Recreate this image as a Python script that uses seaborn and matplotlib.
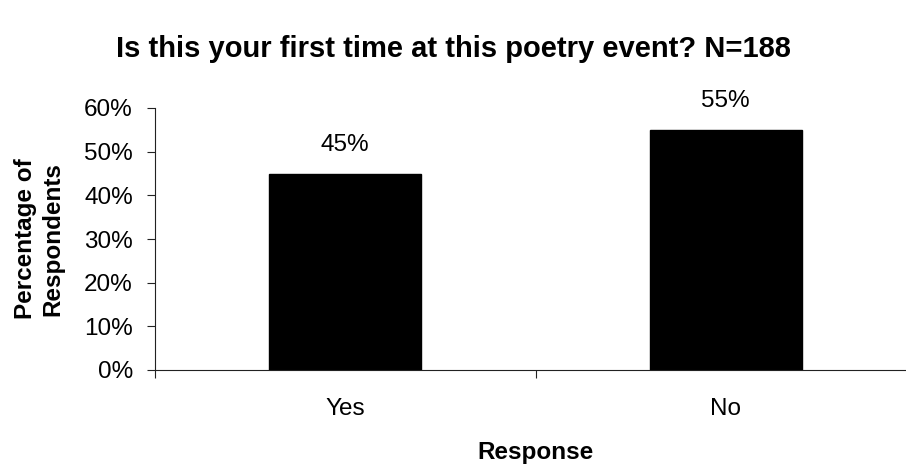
import matplotlib
matplotlib.use("Agg")
import matplotlib.pyplot as plt
import seaborn as sns
import pandas as pd
from matplotlib.ticker import FixedLocator, PercentFormatter

responses = ["Yes", "No"]
percentages = [45, 55]
y_ticks = [0, 10, 20, 30, 40, 50, 60]

sns.set_style("white")
plt.rcParams["font.family"] = ["Liberation Sans", "DejaVu Sans"]
plt.rcParams["text.color"] = "black"
plt.rcParams["axes.labelcolor"] = "black"
plt.rcParams["xtick.color"] = "black"
plt.rcParams["ytick.color"] = "black"

df = pd.DataFrame({"Response": responses, "Percent": percentages})

fig = plt.figure(figsize=(9.06, 4.66), dpi=100)
ax = fig.add_axes([155 / 906, 96 / 466, (916 - 155) / 906, (370 - 108) / 466])

sns.barplot(data=df, x="Response", y="Percent", color="black", width=0.4,
            saturation=1, ax=ax, edgecolor="black")

ax.set_xlim(-0.5, 1.5)
ax.set_ylim(0, 60)

for spine in ["top", "right"]:
    ax.spines[spine].set_visible(False)
for spine in ["left", "bottom"]:
    ax.spines[spine].set_color("#222222")
    ax.spines[spine].set_linewidth(0.8)

ax.yaxis.set_major_locator(FixedLocator(y_ticks))
ax.yaxis.set_major_formatter(PercentFormatter(decimals=0))
ax.tick_params(axis="y", direction="out", length=6, width=0.8, color="#222222",
               labelsize=17.5, pad=10, left=True)

# category labels sit between minor divider ticks
ax.tick_params(axis="x", which="major", length=0, labelsize=17.5, pad=20)
ax.xaxis.set_minor_locator(FixedLocator([-0.5, 0.5, 1.5]))
ax.tick_params(axis="x", which="minor", direction="out", length=6, width=0.8,
               color="#222222", bottom=True)

for container in ax.containers:
    ax.bar_label(container, labels=[f"{v:.0f}%" for v in percentages],
                 padding=12.5, fontsize=17.5)

ax.set_xlabel("Response", fontsize=17.5, fontweight="bold", labelpad=15)
ax.set_ylabel("Percentage of\nRespondents", fontsize=17.5, fontweight="bold",
              labelpad=14, linespacing=1.25)

fig.text(0.5, 1 - 49 / 466, "Is this your first time at this poetry event? N=188",
         ha="center", va="center", fontsize=21, fontweight="bold")

fig.savefig("out.png", dpi=100)
